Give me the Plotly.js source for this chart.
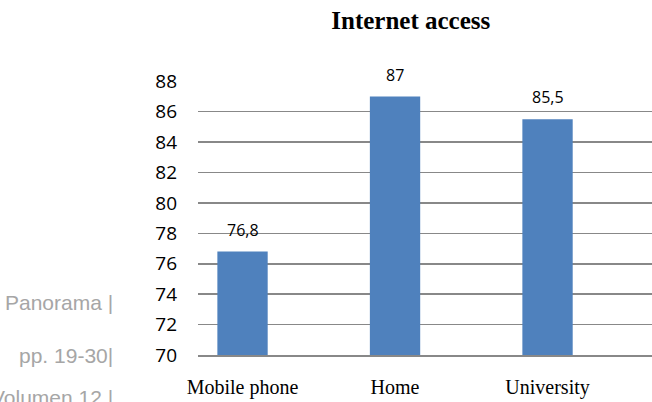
<!DOCTYPE html>
<html>
<head>
<meta charset="utf-8">
<script src="https://cdn.plot.ly/plotly-3.0.1.min.js"></script>
<style>
html,body{margin:0;padding:0;background:#fff;}
#chart{width:652px;height:402px;}
</style>
</head>
<body>
<div id="chart"></div>
<script>
var categories = ["Mobile phone", "Home", "University"];
var values = [76.8, 87, 85.5];
var yTicks = [70, 72, 74, 76, 78, 80, 82, 84, 86, 88];
var chartTitle = "Internet access";
var sideNotes = ["Panorama |", "pp. 19-30|", "Volumen 12 |"];
var sideNoteY = [0.193, 0.0, -0.155];

var fmt = function (v) { return String(v).replace('.', ','); };

var annotations = values.map(function (v, i) {
  return {
    x: categories[i], y: v, xref: 'x', yref: 'y',
    text: fmt(v), showarrow: false,
    xanchor: 'center', yanchor: 'middle', yshift: 22,
    font: {family: 'Open Sans, sans-serif', size: 16, color: '#000'}
  };
});
sideNotes.forEach(function (t, i) {
  annotations.push({
    x: -0.183, y: sideNoteY[i], xref: 'paper', yref: 'paper',
    text: t, showarrow: false, xanchor: 'right', yanchor: 'middle',
    font: {family: 'Liberation Sans, Arial, sans-serif', size: 21, color: '#a6a6a6'}
  });
});

var trace = {
  type: 'bar',
  x: categories,
  y: values,
  marker: {color: '#4F81BD'},
  width: 0.33,
  hoverinfo: 'none'
};

var layout = {
  width: 652, height: 402,
  margin: {l: 198, r: 0, t: 80.5, b: 47, pad: 0},
  paper_bgcolor: '#fff', plot_bgcolor: '#fff',
  separators: ',.',
  showlegend: false,
  title: {
    text: '<b>' + chartTitle + '</b>',
    x: 0.630, xref: 'container', xanchor: 'center',
    y: 0.949, yref: 'container', yanchor: 'middle',
    font: {family: 'Liberation Serif, Times New Roman, serif', size: 25, color: '#000'}
  },
  xaxis: {
    type: 'category',
    range: [-0.292, 2.685],
    showgrid: false,
    showline: true, linecolor: '#888', linewidth: 1.5,
    ticks: '', ticklabelstandoff: 13,
    tickfont: {family: 'Liberation Serif, Times New Roman, serif', size: 20, color: '#000'},
    fixedrange: true
  },
  yaxis: {
    range: [70, 88.02],
    tickvals: yTicks,
    ticktext: yTicks.map(fmt),
    showgrid: true, gridcolor: '#888', gridwidth: 1.5,
    zeroline: false, showline: false,
    ticks: '', ticklabelstandoff: 20,
    tickfont: {family: 'Open Sans, sans-serif', size: 19, color: '#000'},
    fixedrange: true
  },
  annotations: annotations
};

Plotly.newPlot('chart', [trace], layout, {displayModeBar: false, staticPlot: true});
</script>
</body>
</html>
